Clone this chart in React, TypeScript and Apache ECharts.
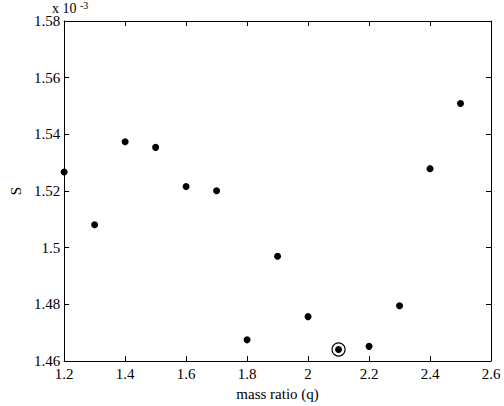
import React, { useEffect, useRef } from "react";
import * as echarts from "echarts";

const massRatio = [1.2, 1.3, 1.4, 1.5, 1.6, 1.7, 1.8, 1.9, 2.0, 2.1, 2.2, 2.3, 2.4, 2.5];
const sValues = [1.5267, 1.5081, 1.5374, 1.5354, 1.5216, 1.5201, 1.4675, 1.497, 1.4757, 1.4641, 1.4652, 1.4795, 1.5279, 1.5509];
const bestIndex = 9;
const xTicks = { min: 1.2, max: 2.6, step: 0.2 };
const yTicks = { min: 1.46, max: 1.58, step: 0.02 };
const xLabel = "mass ratio (q)";
const yLabel = "S";
const scaleText = "x 10";
const scaleExp = "-3";

const FONT = "Liberation Serif";

const fmt = (v: number) => String(parseFloat(v.toFixed(3)));

export default function App() {
  const ref = useRef<HTMLDivElement>(null);
  useEffect(() => {
    if (!ref.current) return;
    const chart = echarts.init(ref.current, null, { renderer: "svg" });
    const pts = massRatio.map((x, i) => [x, sValues[i]]);
    const axisCommon = {
      type: "value" as const,
      axisLine: { show: true, lineStyle: { color: "#000", width: 1 } },
      axisTick: { show: true, inside: true, length: 5, lineStyle: { color: "#000", width: 1 } },
      splitLine: { show: false },
    };
    chart.setOption({
      animation: false,
      backgroundColor: "#fff",
      grid: { left: 51, right: 13, top: 21, bottom: 39, containLabel: false },
      xAxis: [
        {
          ...axisCommon,
          position: "bottom",
          min: xTicks.min,
          max: xTicks.max,
          interval: xTicks.step,
          axisLabel: { color: "#000", fontFamily: FONT, fontSize: 15, margin: 5, formatter: fmt },
          name: xLabel,
          nameLocation: "middle",
          nameGap: 22,
          nameTextStyle: { color: "#000", fontFamily: FONT, fontSize: 15 },
        },
        {
          ...axisCommon,
          position: "top",
          min: xTicks.min,
          max: xTicks.max,
          interval: xTicks.step,
          axisLabel: { show: false },
        },
      ],
      yAxis: [
        {
          ...axisCommon,
          position: "left",
          min: yTicks.min,
          max: yTicks.max,
          interval: yTicks.step,
          axisLabel: { color: "#000", fontFamily: FONT, fontSize: 15, margin: 4, formatter: fmt },
          name: yLabel,
          nameLocation: "middle",
          nameRotate: 90,
          nameGap: 36,
          nameTextStyle: { color: "#000", fontFamily: FONT, fontSize: 15 },
        },
        {
          ...axisCommon,
          position: "right",
          min: yTicks.min,
          max: yTicks.max,
          interval: yTicks.step,
          axisLabel: { show: false },
        },
      ],
      graphic: [
        {
          type: "text",
          left: 52,
          top: 1,
          style: { text: scaleText, fill: "#000", fontFamily: FONT, fontSize: 14 },
        },
        {
          type: "text",
          left: 80,
          top: 0,
          style: { text: scaleExp, fill: "#000", fontFamily: FONT, fontSize: 10 },
        },
      ],
      series: [
        {
          type: "scatter",
          data: pts,
          symbol: "circle",
          symbolSize: 7,
          itemStyle: { color: "#000", opacity: 1 },
          xAxisIndex: 0,
          yAxisIndex: 0,
        },
        {
          type: "scatter",
          data: [pts[bestIndex]],
          symbol: "circle",
          symbolSize: 13,
          itemStyle: { color: "rgba(0,0,0,0)", borderColor: "#000", borderWidth: 1.2, opacity: 1 },
          xAxisIndex: 0,
          yAxisIndex: 0,
        },
      ],
    });
    return () => chart.dispose();
  }, []);
  return <div ref={ref} style={{ width: 504, height: 406, position: "absolute", left: 0, top: 0 }} />;
}
